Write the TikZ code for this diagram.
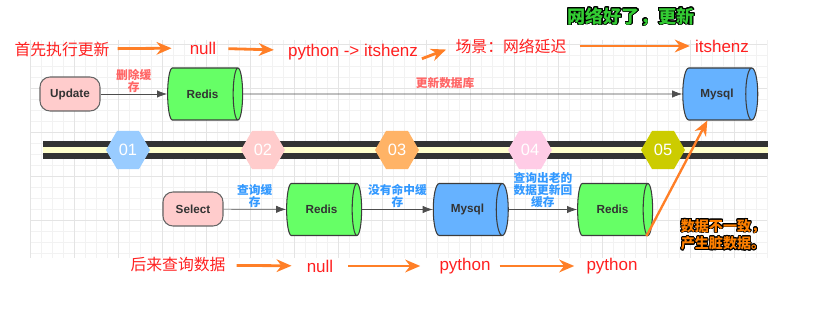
\documentclass[tikz,border=0pt]{standalone}
\usepackage{fontspec}
\setmainfont{Liberation Sans}
\newfontfamily\cjk{Noto Sans CJK SC}
\usepackage{contour}
\contourlength{0.7pt}
\contournumber{24}
\usetikzlibrary{shapes.geometric,arrows.meta}

\definecolor{gridminor}{HTML}{F2F2F2}
\definecolor{gridmajor}{HTML}{E4E4E4}
\definecolor{dbline}{HTML}{3C3C3C}
\definecolor{nodetext}{HTML}{333333}
\definecolor{redisgreen}{HTML}{66FF66}
\definecolor{mysqlblue}{HTML}{66B2FF}
\definecolor{opfill}{HTML}{FFCCCC}
\definecolor{opline}{HTML}{666666}
\definecolor{linkgray}{HTML}{4D4D4D}
\definecolor{banddark}{HTML}{333333}
\definecolor{bandlight}{HTML}{FFFFCC}
\definecolor{hexa}{HTML}{99CCFF}
\definecolor{hexb}{HTML}{FFCCCC}
\definecolor{hexc}{HTML}{FFB366}
\definecolor{hexd}{HTML}{FFCCE6}
\definecolor{hexe}{HTML}{CCCC00}
\definecolor{tipred}{HTML}{FF6666}
\definecolor{tipblue}{HTML}{3399FF}
\definecolor{sayred}{HTML}{FF2020}
\definecolor{floworange}{HTML}{FF7F27}
\definecolor{titlegreen}{HTML}{33CC33}
\definecolor{noteorange}{HTML}{FF8000}

\begin{document}
\begin{tikzpicture}[
  x=0.03cm, y=-0.03cm,
  db/.style={cylinder, draw=dbline, line width=0.9pt, shape aspect=1.1,
             minimum width=1.56cm, minimum height=2.25cm, inner sep=0pt,
             cylinder uses custom fill, cylinder body fill=#1, cylinder end fill=#1,
             text=nodetext, font=\bfseries\fontsize{10}{12}\selectfont},
  op/.style={draw=opline, line width=0.9pt, rounded corners=0.3cm, fill=opfill,
             minimum width=1.8cm, minimum height=1.02cm, inner sep=0pt,
             text=nodetext, font=\bfseries\fontsize{10}{12}\selectfont},
  hexnode/.style={regular polygon, regular polygon sides=6, fill=#1, minimum size=1.32cm,
                  inner sep=0pt, text=white, font=\fontsize{14}{14}\selectfont},
  link/.style={-{Latex[length=0.3cm,width=0.22cm]}, draw=linkgray, line width=0.6pt},
  tip/.style={text=#1, align=center, inner sep=1pt,
              font=\cjk\bfseries\fontsize{10}{10.5}\selectfont},
  say/.style={text=sayred, inner sep=0pt, font=\fontsize{14.5}{16}\selectfont},
  sayc/.style={text=sayred, inner sep=0pt, font=\cjk\fontsize{13.5}{16}\selectfont},
  flow/.style={-{Stealth[length=0.45cm,width=0.38cm]}, draw=floworange, line width=2.4pt}
]
  \useasboundingbox (0,0) rectangle (830,314);

  %-- grid
  \foreach \gx in {30,41,...,767} \draw[gridminor, line width=0.4pt] (\gx,40) -- (\gx,258);
  \foreach \gy in {44,55,...,253} \draw[gridminor, line width=0.4pt] (30,\gy) -- (767,\gy);
  \foreach \gx in {30,74,...,767} \draw[gridmajor, line width=0.5pt] (\gx,40) -- (\gx,258);
  \foreach \gy in {44,88,...,253} \draw[gridmajor, line width=0.5pt] (30,\gy) -- (767,\gy);

  %-- timeline
  \fill[banddark]  (43,141) rectangle (768,159);
  \fill[bandlight] (43,147) rectangle (768,153);
  \node[hexnode=hexa] (n1) at (128,150) {01};
  \node[hexnode=hexb] (n2) at (263,150) {02};
  \node[hexnode=hexc] (n3) at (397,150) {03};
  \node[hexnode=hexd] (n4) at (530,150) {04};
  \node[hexnode=hexe] (n5) at (663,150) {05};

  %-- update path
  \node[op]            (update) at (70,94)    {Update};
  \node[db=redisgreen] (redis1) at (202.5,94) {Redis};
  \node[db=mysqlblue]  (mysql1) at (717,94)   {Mysql};

  %-- select path
  \node[op]            (select) at (193,209)   {Select};
  \node[db=redisgreen] (redis2) at (321.5,209.5) {Redis};
  \node[db=mysqlblue]  (mysql2) at (467.5,209.5) {Mysql};
  \node[db=redisgreen] (redis3) at (612.5,209.5) {Redis};

  \draw[link] (update) -- (redis1) node[midway, above, tip=tipred]{删除缓\\存};
  \draw[link] (redis1) -- (mysql1) node[pos=0.46, above=3pt, tip=tipred]{更新数据库};
  \draw[link] (select) -- (redis2) node[midway, above, tip=tipblue]{查询缓\\存};
  \draw[link] (redis2) -- (mysql2) node[midway, above, tip=tipblue]{没有命中缓\\存};
  \draw[link] (mysql2) -- (redis3) node[midway, above, tip=tipblue]{查询出老的\\数据更新回\\缓存};

  %-- top story
  \node[sayc] (up1) at (62,49)  {首先执行更新};
  \node[say]  (up2) at (203,48) {null};
  \node[say]  (up3) at (353,52) {python -> itshenz};
  \node[sayc] (up4) at (511,46) {场景：网络延迟};
  \node[say]  (up5) at (722,46) {itshenz};
  \node[font=\cjk\bfseries\fontsize{15.5}{18}\selectfont] (good) at (631,17)
       {\contour{black}{\textcolor{titlegreen}{网络好了，更新}}};

  \draw[flow, shorten <=0.24cm, shorten >=0.54cm] (up1) -- (up2);
  \draw[flow, shorten <=0.36cm, shorten >=0.42cm] (up2) -- (up3);
  \draw[flow, shorten <=0.12cm, shorten >=0.3cm]  (up3.south east) -- (up4.west);
  \draw[flow, shorten <=0.39cm, shorten >=0.15cm] (up4) -- (up5);

  %-- bottom story
  \node[sayc] (dn1) at (178,265) {后来查询数据};
  \node[say]  (dn2) at (320,266) {null};
  \node[say]  (dn3) at (465,266) {python};
  \node[say]  (dn4) at (612,266) {python};

  \draw[flow, shorten <=0.33cm, shorten >=0.45cm] (dn1) -- (dn2);
  \draw[flow, shorten <=0.45cm, shorten >=0.57cm] (dn2) -- (dn3);
  \draw[flow, shorten <=0.27cm, shorten >=0.36cm] (dn3) -- (dn4);

  %-- dirty data
  \draw[flow, line width=2pt] (redis3.-38) -- (mysql1.-110);
  \node[align=left, inner sep=0pt, font=\cjk\bfseries\fontsize{12}{15}\selectfont] (dirty) at (723,235)
       {\contour{black}{\textcolor{noteorange}{数据不一致，}}\\
        \contour{black}{\textcolor{noteorange}{产生脏数据。}}};
\end{tikzpicture}
\end{document}
